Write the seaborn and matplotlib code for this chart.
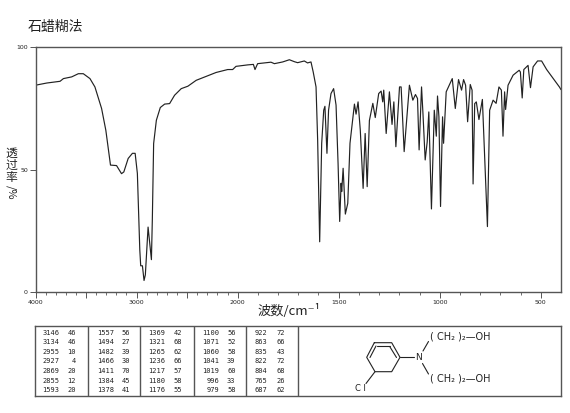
import numpy as np
import matplotlib
matplotlib.use('Agg')
import matplotlib.pyplot as plt
import seaborn as sns

# wavenumber (cm-1) and transmittance (%)
wavenumber = [4000, 3888, 3757, 3724, 3642, 3576, 3527, 3461, 3412, 3346, 3304, 3258, 3198, 3149, 3126,
              3083, 3041, 3014, 2992, 2968, 2959, 2942, 2926, 2913, 2886, 2853, 2844, 2831, 2804, 2765,
              2722, 2673, 2624, 2558, 2492, 2410, 2311, 2213, 2098, 2049, 2016, 1950, 1922, 1914, 1901,
              1835, 1818, 1777, 1744, 1719, 1703, 1670, 1654, 1637, 1626, 1612, 1604, 1594, 1584, 1574,
              1568, 1558, 1550, 1538, 1525, 1513, 1503, 1495, 1488, 1485, 1478, 1467, 1455, 1444, 1422,
              1414, 1404, 1393, 1379, 1369, 1359, 1348, 1331, 1319, 1302, 1290, 1282, 1277, 1265, 1249,
              1236, 1227, 1217, 1199, 1191, 1176, 1150, 1133, 1120, 1110, 1102, 1090, 1083, 1072, 1062,
              1054, 1041, 1027, 1017, 1011, 1004, 996, 986, 981, 968, 938, 923, 907, 892, 882,
              872, 862, 849, 840, 835, 827, 819, 806, 789, 764, 753, 736, 721, 707, 695,
              687, 679, 674, 662, 637, 607, 601, 592, 584, 563, 551, 538, 516, 496, 471,
              438, 408, 400]
transmittance = [84.4, 85.3, 86.0, 87.1, 87.8, 89.1, 89.1, 87.1, 83.7, 74.9, 66.0, 51.8, 51.6, 48.3, 49.0,
                 54.5, 56.6, 56.6, 48.4, 17.2, 10.7, 10.7, 4.7, 7.0, 26.5, 13.2, 29.4, 60.6, 70.1, 75.3,
                 76.7, 76.9, 80.3, 83.0, 84.0, 86.4, 88.0, 89.6, 90.8, 90.8, 92.1, 92.7, 92.9, 90.8, 93.2,
                 93.8, 93.2, 93.9, 94.8, 94.0, 93.6, 94.3, 93.5, 93.9, 89.8, 83.7, 62.0, 20.5, 60.7, 74.2,
                 75.8, 56.6, 74.2, 81.0, 83.0, 76.3, 52.5, 28.8, 44.4, 41.0, 50.5, 31.8, 36.2, 60.7, 76.7,
                 72.6, 77.6, 66.0, 42.3, 64.7, 43.0, 70.0, 77.0, 71.2, 81.0, 82.0, 77.6, 82.4, 64.7, 81.7,
                 68.4, 77.6, 59.3, 83.7, 83.7, 57.3, 84.4, 78.3, 80.6, 79.0, 58.0, 83.7, 72.9, 53.9, 61.3,
                 73.5, 33.9, 74.2, 63.6, 80.0, 71.5, 34.9, 71.5, 60.7, 81.7, 87.1, 74.9, 86.7, 82.4, 86.7,
                 84.4, 69.5, 84.7, 82.4, 44.1, 76.9, 77.6, 70.4, 78.6, 26.7, 74.2, 78.3, 77.0, 83.7, 82.4,
                 63.6, 81.7, 74.5, 84.4, 88.5, 90.5, 89.8, 79.2, 90.8, 92.5, 83.4, 91.9, 94.3, 94.3, 90.8,
                 87.1, 83.7, 82.6]

x_major = [4000, 3500, 3000, 2500, 2000, 1500, 1000, 500]
x_labels = ['4000', '', '3000', '', '2000', '1500', '1000', '500']
y_major = [0, 50, 100]

# peak table, one column per box
peak_cols = [
    ['3146', '3134', '2955', '2927', '2869', '2855', '1593'],
    ['1557', '1494', '1482', '1466', '1411', '1384', '1378'],
    ['1369', '1321', '1265', '1236', '1217', '1180', '1176'],
    ['1100', '1071', '1060', '1041', '1019', '996', '979'],
    ['922', '863', '835', '822', '804', '765', '687'],
]
peak_vals = [
    ['46', '46', '10', '4', '20', '12', '20'],
    ['56', '27', '39', '30', '70', '45', '41'],
    ['42', '68', '62', '66', '57', '58', '55'],
    ['56', '52', '58', '39', '60', '33', '58'],
    ['72', '66', '43', '72', '68', '26', '62'],
]

sns.set_style('white')
plt.rcParams['font.family'] = ['Noto Sans CJK SC', 'DejaVu Sans']

W, H = 570, 413
EDGE = '#555555'
INK = '#222222'

def px_axes(fig, l, t, r, b):
    return fig.add_axes([l / W, 1 - b / H, (r - l) / W, (b - t) / H])

# axis is twice as wide per cm-1 below 2000
def squash(w):
    w = np.asarray(w, dtype=float)
    return np.where(w > 2000, 2000 + (w - 2000) / 2, w)

def unsquash(v):
    v = np.asarray(v, dtype=float)
    return np.where(v > 2000, 2000 + (v - 2000) * 2, v)

fig = plt.figure(figsize=(W / 100, H / 100), dpi=100)
ax = px_axes(fig, 35.5, 47, 561, 292)
ax.set_xscale('function', functions=(squash, unsquash))
sns.lineplot(x=wavenumber, y=transmittance, sort=False, estimator=None,
             color=INK, linewidth=0.85, ax=ax)
ax.set_xlim(4000, 400)
ax.set_ylim(0, 100)
ax.set_xticks(x_major)
ax.set_xticklabels(x_labels, fontsize=4.5, family=['DejaVu Sans'], color=INK)
ax.set_xticks(np.arange(500, 4000, 100), minor=True)
ax.set_yticks(y_major)
ax.set_yticklabels([str(v) for v in y_major], fontsize=4.5, family=['DejaVu Sans'], color=INK)
ax.tick_params(axis='both', which='major', length=4, width=0.7, pad=1.5, color=EDGE, bottom=True, left=True)
ax.tick_params(axis='x', which='minor', length=2, width=0.6, color=EDGE, bottom=True)
for s in ax.spines.values():
    s.set_visible(True)
    s.set_color(EDGE)
    s.set_linewidth(1.0)

fig.text(28 / W, 1 - 27 / H, '石蜡糊法', fontsize=10, color=INK, va='center', ha='left')
for ch, y in zip('透过率', [153, 165, 177]):
    fig.text(11.5 / W, 1 - y / H, ch, fontsize=8.5, color=INK, va='center', ha='center')
fig.text(11.5 / W, 1 - 192 / H, '/%', fontsize=8, color=INK, va='center', ha='center', rotation=270)
fig.text(289 / W, 1 - 311 / H, '波数/cm⁻¹', fontsize=9.5, color=INK, va='center', ha='center')

# table and structure box, axes runs in image pixels
box = px_axes(fig, 35, 326, 561, 396)
box.set_xlim(35, 561)
box.set_ylim(396, 326)
box.set_xticks([])
box.set_yticks([])
for s in box.spines.values():
    s.set_visible(True)
    s.set_color(EDGE)
    s.set_linewidth(1.0)
box.vlines([88, 140, 194, 246, 298], 326, 396, color=EDGE, linewidth=1.0)

row_y = 332.5 + 9.6 * np.arange(7)
wave_right = [59.5, 114, 165.5, 219, 267.5]
val_right = [76, 130, 182, 235.5, 285]
for c in range(5):
    for r in range(7):
        box.text(wave_right[c], row_y[r], peak_cols[c][r], fontsize=5, family=['DejaVu Sans Mono'],
                 ha='right', va='center', color=INK)
        box.text(val_right[c], row_y[r], peak_vals[c][r], fontsize=5, family=['DejaVu Sans Mono'],
                 ha='right', va='center', color=INK)

# chlorophenyl ring and side chains
ring_x = np.array([374.3, 391.7, 400, 391.7, 375, 366.7, 374.3])
ring_y = np.array([342.7, 342.7, 357.3, 371.7, 371.7, 357.3, 342.7])
box.plot(ring_x, ring_y, color=INK, linewidth=0.8)
box.plot([376.5, 389.5], [345.5, 345.5], color=INK, linewidth=0.8)
box.plot([396.5, 390], [357.5, 347], color=INK, linewidth=0.8)
box.plot([370, 376], [357.5, 346], color=INK, linewidth=0.8)
box.plot([400, 414], [357.3, 357.3], color=INK, linewidth=0.8)
box.plot([423, 428.5], [351, 341.5], color=INK, linewidth=0.8)
box.plot([422.5, 428.5], [363.5, 374], color=INK, linewidth=0.8)
box.plot([375, 366], [371.7, 383.5], color=INK, linewidth=0.8)
box.text(418.5, 357.3, 'N', fontsize=6.5, family=['DejaVu Sans'], ha='center', va='center', color=INK)
box.text(360, 388, 'C l', fontsize=6, family=['DejaVu Sans'], ha='center', va='center', color=INK)
for y in [336.5, 378.5]:
    box.text(430, y, '( CH₂ )₂—OH', fontsize=7, family=['DejaVu Sans'], ha='left', va='center', color=INK)

fig.savefig('out.png', dpi=100)
